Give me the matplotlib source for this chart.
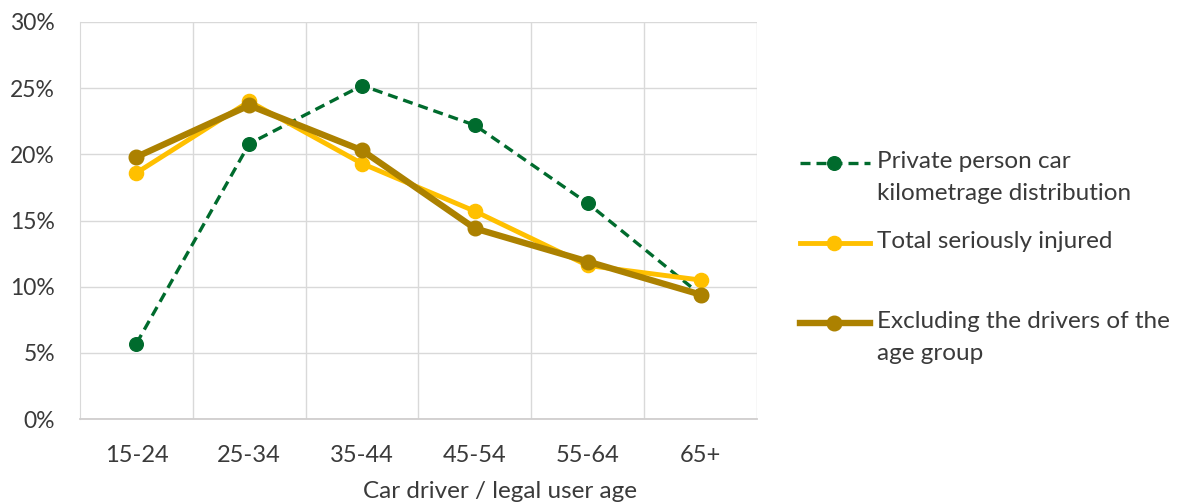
import matplotlib
matplotlib.use('Agg')
import matplotlib.pyplot as plt
from matplotlib.lines import Line2D
from matplotlib.ticker import FuncFormatter, MultipleLocator, FixedLocator

plt.rcParams['font.family'] = ['Lato', 'DejaVu Sans']

# share of each age group (%)
age_groups = ['15-24', '25-34', '35-44', '45-54', '55-64', '65+']
kilometrage = [5.7, 20.8, 25.2, 22.2, 16.3, 9.4]
seriously_injured = [18.6, 24.0, 19.3, 15.7, 11.6, 10.5]
excluding_own_group = [19.8, 23.7, 20.3, 14.4, 11.9, 9.4]

series_labels = [
    'Private person car\nkilometrage distribution',
    'Total seriously injured',
    'Excluding the drivers of the\nage group',
]

TEXT = '#3a3a3a'
GRID = '#d9d9d9'
GREEN = '#006b2d'
YELLOW = '#ffc000'
BROWN = '#ac8100'

W, H = 1183, 503
fig = plt.figure(figsize=(W / 100, H / 100), dpi=100)
ax = fig.add_axes([80 / W, 84 / H, 677 / W, 397 / H])

x = range(len(age_groups))
styles = [
    dict(color=GREEN, lw=2.4, ls=(0, (3, 1.8)), marker='o', ms=9.8),
    dict(color=YELLOW, lw=3.5, ls='-', marker='o', ms=10.2),
    dict(color=BROWN, lw=4.6, ls='-', marker='o', ms=10.5),
]
for vals, st, z in zip([kilometrage, seriously_injured, excluding_own_group], styles, [3, 4, 5]):
    ax.plot(x, vals, zorder=z, solid_capstyle='round', **st)

ax.set_xlim(-0.5, len(age_groups) - 0.5)
ax.set_ylim(0, 30)
ax.yaxis.set_major_locator(MultipleLocator(5))
ax.yaxis.set_major_formatter(FuncFormatter(lambda v, _: f'{v:.0f}%'))
ax.set_xticks(list(x))
ax.set_xticklabels(age_groups)
ax.xaxis.set_minor_locator(FixedLocator([i + 0.5 for i in x]))

ax.grid(True, axis='y', which='major', color=GRID, lw=1)
ax.grid(True, axis='x', which='minor', color=GRID, lw=1)
ax.set_axisbelow(True)
ax.tick_params(which='both', length=0)
ax.tick_params(axis='y', pad=18, labelsize=16.5, labelcolor=TEXT)
ax.tick_params(axis='x', pad=19, labelsize=17, labelcolor=TEXT)

for side in ['top', 'right']:
    ax.spines[side].set_visible(False)
ax.spines['left'].set_color(GRID)
ax.spines['bottom'].set_color('#d0cece')
ax.spines['bottom'].set_linewidth(1.3)

ax.set_xlabel('Car driver / legal user age', fontsize=17.5, color=TEXT)
ax.xaxis.set_label_coords(0.62, -0.155)

# legend drawn by hand so the key lines up with the first text line
legend_rows = [163, 243, 323]
for label, st, row in zip(series_labels, styles, legend_rows):
    y = 1 - row / H
    fig.add_artist(Line2D([800 / W, 870 / W], [y, y], transform=fig.transFigure,
                          color=st['color'], lw=st['lw'], ls=st['ls']))
    fig.add_artist(Line2D([834 / W], [y], transform=fig.transFigure, color=st['color'],
                          marker='o', ms=st['ms'], ls='none'))
    fig.text(877 / W, y + 12 / H, label, fontsize=17.5, color=TEXT, va='top', ha='left',
             linespacing=1.62)

fig.savefig('out.png', dpi=100, facecolor='white')
